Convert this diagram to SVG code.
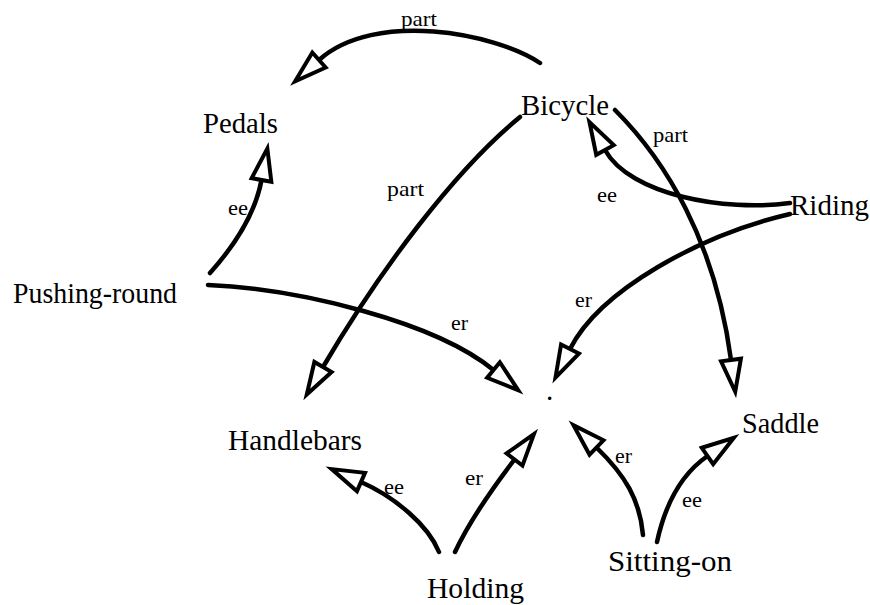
<svg xmlns="http://www.w3.org/2000/svg" width="870" height="605" viewBox="0 0 870 605">
<style>
text{font-family:'Liberation Serif','Times New Roman','DejaVu Serif','Noto Serif',serif;fill:#000}
.n{font-size:29px}
.l{font-size:22px}
.e{fill:none;stroke:#000;stroke-width:4.5;stroke-linecap:round;marker-end:url(#ah)}
</style>
<defs>
<marker id="ah" markerUnits="userSpaceOnUse" orient="auto" refX="0" refY="0" markerWidth="40" markerHeight="30" overflow="visible">
<path d="M0,-10 L32,0 L0,10 Z" fill="#fff" stroke="#000" stroke-width="4" stroke-linejoin="miter"/>
</marker>
</defs>
<rect width="870" height="605" fill="#fff"/>
<g id="connectors">
<path class="e" d="M540,63 C495,33 375,10 319,60"/>
<path class="e" d="M520,117 C455,170 380,270 323,367"/>
<path class="e" d="M615,110 C665,160 715,240 731,360"/>
<path class="e" d="M790,203 C725,212 630,195 605,150"/>
<path class="e" d="M790,214 C700,235 600,290 570,349"/>
<path class="e" d="M210,273 C235,245 255,215 261.5,180"/>
<path class="e" d="M208,285 C300,289 435,322 493.5,370"/>
<path class="e" d="M439,552 C428,525 395,497 361,482"/>
<path class="e" d="M455,552 C470,520 495,485 514.5,459.5"/>
<path class="e" d="M643,535 C640,500 625,475 596.5,447.5"/>
<path class="e" d="M657,542 C665,505 680,475 707.5,456"/>
<text class="l" x="401" y="26" font-family="Liberation Serif, DejaVu Serif, serif" textLength="36" lengthAdjust="spacingAndGlyphs">part</text>
<text class="l" x="653" y="142" font-family="Liberation Serif, DejaVu Serif, serif" textLength="35" lengthAdjust="spacingAndGlyphs">part</text>
<text class="l" x="387" y="196" font-family="Liberation Serif, DejaVu Serif, serif" textLength="37" lengthAdjust="spacingAndGlyphs">part</text>
<text class="l" x="597" y="202" font-family="Liberation Serif, DejaVu Serif, serif" textLength="20" lengthAdjust="spacingAndGlyphs">ee</text>
<text class="l" x="228" y="215" font-family="Liberation Serif, DejaVu Serif, serif" textLength="20" lengthAdjust="spacingAndGlyphs">ee</text>
<text class="l" x="451" y="330" font-family="Liberation Serif, DejaVu Serif, serif" textLength="17" lengthAdjust="spacingAndGlyphs">er</text>
<text class="l" x="575" y="307" font-family="Liberation Serif, DejaVu Serif, serif" textLength="17" lengthAdjust="spacingAndGlyphs">er</text>
<text class="l" x="384" y="494" font-family="Liberation Serif, DejaVu Serif, serif" textLength="20" lengthAdjust="spacingAndGlyphs">ee</text>
<text class="l" x="465" y="485" font-family="Liberation Serif, DejaVu Serif, serif" textLength="18" lengthAdjust="spacingAndGlyphs">er</text>
<text class="l" x="615" y="463" font-family="Liberation Serif, DejaVu Serif, serif" textLength="17" lengthAdjust="spacingAndGlyphs">er</text>
<text class="l" x="682" y="507" font-family="Liberation Serif, DejaVu Serif, serif" textLength="20" lengthAdjust="spacingAndGlyphs">ee</text>
</g>
<g id="bicycle"><text class="n" x="521" y="115" font-family="Liberation Serif, DejaVu Serif, serif" textLength="88" lengthAdjust="spacingAndGlyphs">Bicycle</text></g>
<g id="pedals"><text class="n" x="203" y="133" font-family="Liberation Serif, DejaVu Serif, serif" textLength="75" lengthAdjust="spacingAndGlyphs">Pedals</text></g>
<g id="riding"><text class="n" x="790" y="215" font-family="Liberation Serif, DejaVu Serif, serif" textLength="79" lengthAdjust="spacingAndGlyphs">Riding</text></g>
<g id="pushing-round"><text class="n" x="13" y="303" font-family="Liberation Serif, DejaVu Serif, serif" textLength="164" lengthAdjust="spacingAndGlyphs">Pushing-round</text></g>
<g id="center"><text class="n" x="546" y="400" font-family="Liberation Serif, DejaVu Serif, serif">.</text></g>
<g id="handlebars"><text class="n" x="228" y="450" font-family="Liberation Serif, DejaVu Serif, serif" textLength="134" lengthAdjust="spacingAndGlyphs">Handlebars</text></g>
<g id="saddle"><text class="n" x="742" y="433" font-family="Liberation Serif, DejaVu Serif, serif" textLength="77" lengthAdjust="spacingAndGlyphs">Saddle</text></g>
<g id="holding"><text class="n" x="427" y="598" font-family="Liberation Serif, DejaVu Serif, serif" textLength="97" lengthAdjust="spacingAndGlyphs">Holding</text></g>
<g id="sitting-on"><text class="n" x="608" y="571" font-family="Liberation Serif, DejaVu Serif, serif" textLength="124" lengthAdjust="spacingAndGlyphs">Sitting-on</text></g>
</svg>
